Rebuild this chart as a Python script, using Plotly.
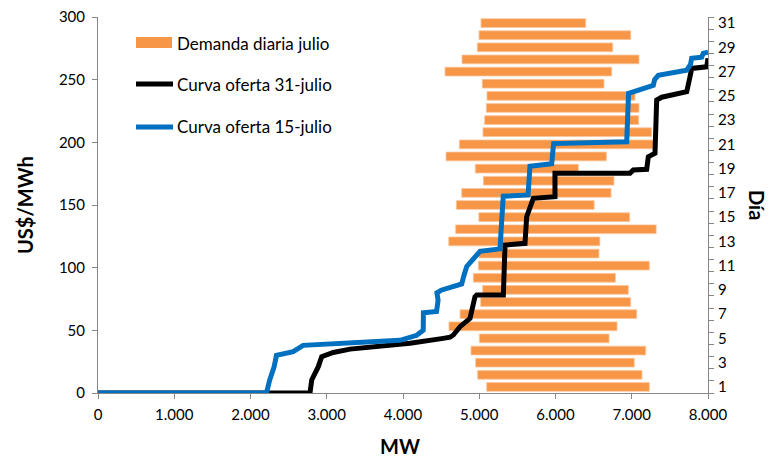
import plotly.graph_objects as go

# Daily demand range for July (MW), one bar per day
dias = list(range(1, 32))
dem_min = [5098, 4979, 4953, 4892, 5001, 4603, 4748, 5019, 5045, 4922, 4988, 4997, 4600, 4691, 4995, 4700,
           4770, 5054, 4948, 4564, 4739, 5049, 5071, 5093, 5102, 5040, 4551, 4774, 4975, 4997, 5023]
dem_max = [7230, 7134, 7033, 7183, 6702, 6807, 7065, 6986, 6955, 6785, 7230, 6570, 6582, 7320, 6972, 6507,
           6728, 6767, 6299, 6667, 7292, 7261, 7091, 7095, 7043, 6636, 6737, 7095, 6750, 6986, 6396]

# Supply curve, 15 July (MW, US$/MWh)
mw_15 = [0, 2210, 2250, 2310, 2340, 2560, 2690, 3300, 3960, 4180, 4265, 4268, 4440, 4460, 4445, 4500,
         4770, 4800, 4836, 5010, 5272, 5295, 5315, 5640, 5650, 5665, 5950, 5965, 5975, 6934, 6950, 6958,
         7283, 7300, 7348, 7720, 7770, 7786, 7917, 7938, 8000]
precio_15 = [0, 0, 10, 21, 30, 33, 38, 40, 42, 46, 50, 64, 65, 74, 80, 82,
             87, 94, 101, 113, 115, 138, 157, 158, 170, 181, 183, 192, 199, 200.5, 220, 239,
             245.5, 250, 253.5, 257.5, 262, 267, 268, 271, 272]

# Supply curve, 31 July (MW, US$/MWh)
mw_31 = [0, 2780, 2803, 2850, 2889, 2934, 3086, 3305, 3830, 4092, 4528, 4616, 4660, 4748, 4879, 4944,
         4967, 5316, 5338, 5600, 5622, 5709, 5993, 5993, 6977, 7020, 7196, 7217, 7305, 7327, 7393, 7590,
         7721, 7764, 7786, 7983, 8000]
precio_31 = [0, 0, 10.4, 16, 21, 29, 32.3, 35, 37.5, 39.7, 43.6, 44.5, 46.3, 52.9, 59.6, 76.8,
             78.2, 78.2, 118, 119.4, 140.7, 155.3, 156.6, 175.3, 175.3, 178, 178.5, 188.5, 191.3, 233.8, 236, 239,
             240.4, 252.4, 259, 260.3, 267]

x_ticks = [0, 1000, 2000, 3000, 4000, 5000, 6000, 7000, 8000]
x_tick_labels = ["0", "1.000", "2.000", "3.000", "4.000", "5.000", "6.000", "7.000", "8.000"]
y_ticks = [0, 50, 100, 150, 200, 250, 300]
dia_ticks = list(range(1, 32, 2))

NARANJA = "#F79646"
AZUL = "#0070C0"
NEGRO = "#000000"
EJE = "#868686"
FONT = "Lato"

fig = go.Figure()

fig.add_trace(go.Bar(
    name="Demanda diaria julio",
    y=dias,
    x=[b - a for a, b in zip(dem_min, dem_max)],
    base=dem_min,
    orientation="h",
    width=0.72,
    marker=dict(color=NARANJA, line=dict(width=0.8, color="#FBC49A")),
    xaxis="x", yaxis="y",
    showlegend=False,
))

fig.add_trace(go.Scatter(
    name="Curva oferta 31-julio", x=mw_31, y=precio_31, mode="lines",
    line=dict(color=NEGRO, width=5), xaxis="x", yaxis="y2", showlegend=False,
))
fig.add_trace(go.Scatter(
    name="Curva oferta 15-julio", x=mw_15, y=precio_15, mode="lines",
    line=dict(color=AZUL, width=5), xaxis="x", yaxis="y2", showlegend=False,
))

W, H = 781, 459
L, R, T, B = 98, 73, 17, 66
pw, ph = W - L - R, H - T - B


def px(xp):
    return (xp - L) / pw


def py(yp):
    return (H - B - yp) / ph


# Legend drawn inside the plot area
shapes = [
    dict(type="rect", xref="paper", yref="paper", x0=px(136), x1=px(172), y0=py(48), y1=py(37),
         fillcolor=NARANJA, line=dict(width=0)),
    dict(type="line", xref="paper", yref="paper", x0=px(136), x1=px(173), y0=py(84), y1=py(84),
         line=dict(color=NEGRO, width=5)),
    dict(type="line", xref="paper", yref="paper", x0=px(136), x1=px(173), y0=py(127), y1=py(127),
         line=dict(color=AZUL, width=5)),
]
annotations = []
for texto, yy in [("Demanda diaria julio", 43), ("Curva oferta 31-julio", 84), ("Curva oferta 15-julio", 127)]:
    annotations.append(dict(text=texto, xref="paper", yref="paper", x=px(175), y=py(yy),
                            xanchor="left", yanchor="middle", showarrow=False,
                            font=dict(family=FONT, size=17, color="#000000")))

annotations += [
    dict(text="<b>US$/MWh</b>", xref="paper", yref="paper", x=px(25), y=py(205), textangle=-90,
         showarrow=False, xanchor="center", yanchor="middle", font=dict(family=FONT, size=20, color="#000")),
    dict(text="<b>MW</b>", xref="paper", yref="paper", x=px(400), y=py(446),
         showarrow=False, xanchor="center", yanchor="middle", font=dict(family=FONT, size=20, color="#000")),
    dict(text="<b>Día</b>", xref="paper", yref="paper", x=px(757), y=py(205), textangle=90,
         showarrow=False, xanchor="center", yanchor="middle", font=dict(family=FONT, size=20, color="#000")),
]

tick_font = dict(family=FONT, size=15, color="#000000")

fig.update_layout(
    width=W, height=H,
    margin=dict(l=L, r=R, t=T, b=B, autoexpand=False),
    paper_bgcolor="white", plot_bgcolor="white",
    barmode="overlay",
    shapes=shapes,
    annotations=annotations,
    xaxis=dict(range=[0, 8000], tickvals=x_ticks, ticktext=x_tick_labels, showgrid=False, zeroline=False,
               showline=True, linecolor=EJE, linewidth=1, ticks="outside", ticklen=5, tickcolor=EJE,
               tickfont=tick_font, automargin=False, ticklabelstandoff=3),
    yaxis=dict(range=[0.5, 31.5], side="right", tickvals=dia_ticks, ticks="", showgrid=False, zeroline=False,
               showline=True, linecolor=EJE, linewidth=1, tickfont=tick_font, automargin=False,
               ticklabelstandoff=6,
               minor=dict(tickmode="linear", tick0=0.5, dtick=1, ticks="outside", ticklen=5, tickcolor=EJE,
                          showgrid=False)),
    yaxis2=dict(range=[0, 300], side="left", overlaying="y", tickvals=y_ticks, showgrid=False, zeroline=False,
                showline=True, linecolor=EJE, linewidth=1, ticks="outside", ticklen=5, tickcolor=EJE,
                tickfont=tick_font, automargin=False, ticklabelstandoff=4),
)

fig.write_html("out.html")
